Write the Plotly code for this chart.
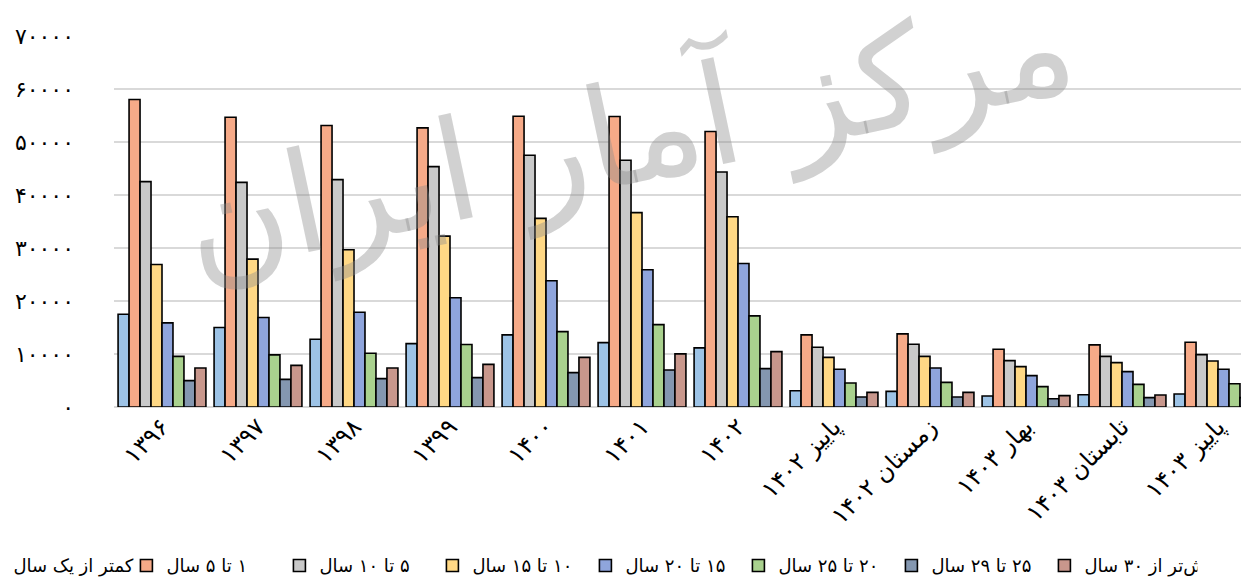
import plotly.graph_objects as go

# periods on the x axis
categories = ["۱۳۹۶", "۱۳۹۷", "۱۳۹۸", "۱۳۹۹", "۱۴۰۰", "۱۴۰۱", "۱۴۰۲",
              "پاییز ۱۴۰۲", "زمستان ۱۴۰۲", "بهار ۱۴۰۳", "تابستان ۱۴۰۳", "پاییز ۱۴۰۳"]

# one list per age band
less_than_1 = [17500, 14990, 12780, 11960, 13610, 12150, 11150, 3080, 2950, 2080, 2320, 2460]
age_1_5 = [58020, 54680, 53110, 52660, 54870, 54810, 51980, 13610, 13800, 10890, 11720, 12210]
age_5_10 = [42520, 42390, 42900, 45360, 47500, 46550, 44340, 11260, 11830, 8750, 9560, 9880]
age_10_15 = [26900, 27900, 29670, 32240, 35590, 36670, 35910, 9370, 9560, 7620, 8370, 8690]
age_15_20 = [15880, 16880, 17880, 20600, 23810, 25890, 27080, 7110, 7370, 5920, 6670, 7110]
age_20_25 = [9560, 9830, 10130, 11780, 14230, 15550, 17200, 4540, 4650, 3840, 4270, 4400]
age_25_29 = [4970, 5220, 5350, 5540, 6480, 6990, 7240, 1890, 1890, 1570, 1760, 1760]
more_than_30 = [7370, 7860, 7370, 8050, 9370, 10020, 10450, 2760, 2760, 2140, 2270, 2460]

series_names = ["کمتر از یک سال", "۱ تا ۵ سال", "۵ تا ۱۰ سال", "۱۰ تا ۱۵ سال",
                "۱۵ تا ۲۰ سال", "۲۰ تا ۲۵ سال", "۲۵ تا ۲۹ سال", "بیش‌تر از ۳۰ سال"]
series_values = [less_than_1, age_1_5, age_5_10, age_10_15,
                 age_15_20, age_20_25, age_25_29, more_than_30]
colors = ["#9dc3e6", "#f6aa88", "#c9c9c9", "#ffd885",
          "#8fa5dc", "#a9d18e", "#8497b0", "#c8978c"]

y_ticks = [0, 10000, 20000, 30000, 40000, 50000, 60000, 70000]


def to_persian(n):
    return str(n).translate(str.maketrans("0123456789", "۰۱۲۳۴۵۶۷۸۹"))


fig = go.Figure()
for name, vals, col in zip(series_names, series_values, colors):
    # RLM so that names starting with a digit read right to left
    fig.add_trace(go.Bar(x=categories, y=vals, name="\u200f" + name,
                         marker=dict(color=col, line=dict(color="black", width=1.6))))

# watermark
fig.add_annotation(text="مرکز آمار ایران", xref="paper", yref="paper", x=0.45, y=0.737,
                   xanchor="center", yanchor="middle",
                   showarrow=False, textangle=-12,
                   font=dict(size=140, color="rgba(140,140,140,0.40)", family="DejaVu Sans"))

fig.update_layout(
    width=1249, height=579,
    margin=dict(l=106, r=0, t=28, b=180, autoexpand=False),
    plot_bgcolor="white", paper_bgcolor="white",
    font=dict(family="DejaVu Sans", color="black"),
    barmode="group", bargap=0.085, bargroupgap=0,
    showlegend=True,
    legend=dict(orientation="h", x=-0.123, xanchor="left", y=-0.378, yanchor="top",
                font=dict(size=18), entrywidth=108, traceorder="normal"),
)
fig.update_xaxes(range=[-0.5, 11.406], tickangle=-45, tickfont=dict(size=24),
                 showgrid=False, showline=False, ticks="", automargin=False)
fig.update_yaxes(range=[0, 70000], tickvals=y_ticks,
                 ticktext=[to_persian(v) for v in y_ticks],
                 tickfont=dict(size=22), gridcolor="#d9d9d9", gridwidth=1.5,
                 zeroline=True, zerolinecolor="#d9d9d9", zerolinewidth=2,
                 showline=False, ticklabelstandoff=39, automargin=False)

fig.write_html("out.html")
